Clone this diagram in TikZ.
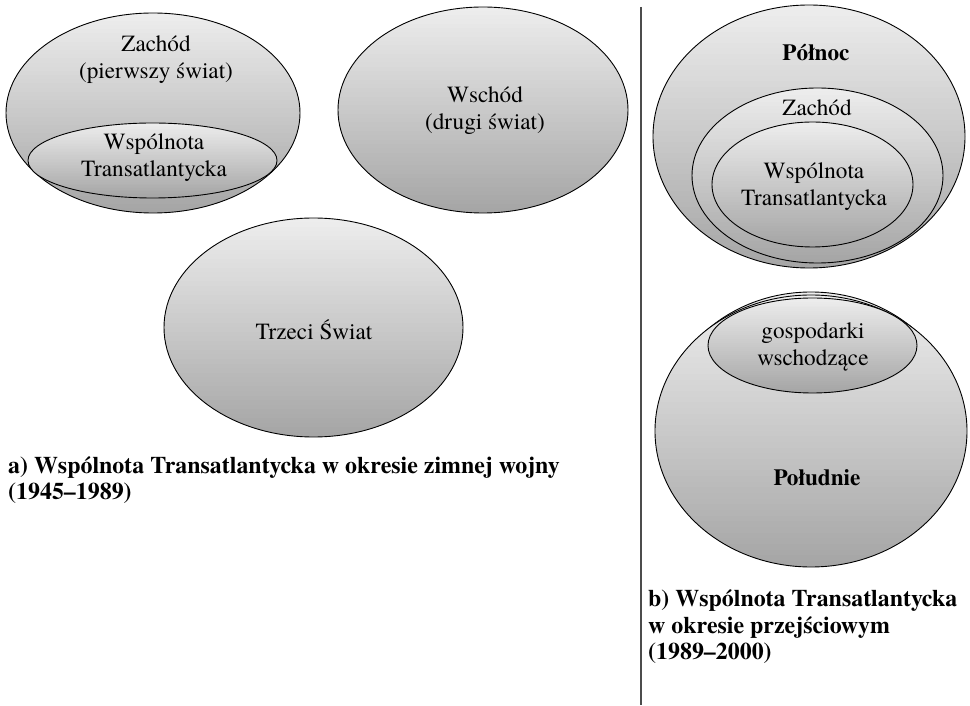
\documentclass[tikz,border=0pt]{standalone}
\usepackage{fontspec}
\setmainfont{TeX Gyre Termes}
\newcommand\gradell[4]{%
  \begin{scope}
    \clip (#1,#2) ellipse (#3 and #4);
    \foreach \i in {0,...,47} {
      \pgfmathsetmacro\pc{14+56*\i/47}
      \fill[gray!\pc] (#1-#3-2, {#2+#4-\i*2*#4/48+0.4}) rectangle (#1+#3+2, {#2+#4-(\i+1)*2*#4/48-0.4});
    }
  \end{scope}
  \draw[line width=0.9pt] (#1,#2) ellipse (#3 and #4);
}
\begin{document}
\begin{tikzpicture}[x=1pt,y=1pt,
  lbl/.style={font=\fontsize{23.2}{27}\selectfont, align=center, inner sep=0pt},
  blbl/.style={font=\fontsize{23.2}{27}\selectfont\bfseries, align=center, inner sep=0pt},
  captxt/.style={font=\fontsize{23.9}{26.5}\selectfont\bfseries, align=left, inner sep=0pt, anchor=west}]
\useasboundingbox (0,0) rectangle (970,705);
\fill[white] (0,0) rectangle (970,705);

% ---- left part (a) ----
\gradell{153}{592}{147}{100}
\gradell{152.5}{544.5}{124.5}{37.5}
\gradell{483}{595}{145}{103}
\gradell{313.5}{377.5}{149.5}{109.5}

\node[lbl] (zachodA) at (156,645) {Zachód\\(pierwszy świat)};
\node[lbl] (wtA) at (154,547) {Wspólnota\\Transatlantycka};
\node[lbl] (wschod) at (485,594) {Wschód\\(drugi świat)};
\node[lbl] (trzeci) at (314,375) {Trzeci Świat};

\node[captxt] (capA) at (8,225) {a) Wspólnota Transatlantycka w okresie zimnej wojny\\(1945–1989)};

% ---- divider ----
\coordinate (divtop) at (641,698);
\coordinate (divbot) at (641,0);
\draw[line width=1.4pt, black!70] (divtop) -- (divbot);

% ---- right part (b) ----
\gradell{809}{568.5}{156}{131.5}
\gradell{817.5}{529.5}{125.5}{87.5}
\gradell{812.5}{520.5}{100.5}{62.5}

\node[blbl] (polnoc) at (816,652) {Północ};
\node[lbl] (zachodB) at (817,597) {Zachód};
\node[lbl] (wtB) at (814,518) {Wspólnota\\Transatlantycka};

\gradell{811}{277}{150}{136}
\gradell{811}{274}{156}{136}
\gradell{812.5}{359.5}{104.5}{47.5}

\node[lbl] (gosp) at (813,358) {gospodarki\\wschodzące};
\node[blbl] (poludnie) at (817,227) {Południe};

\node[captxt] (capB) at (648,78) {b) Wspólnota Transatlantycka\\w okresie przejściowym\\(1989–2000)};
\end{tikzpicture}
\end{document}
